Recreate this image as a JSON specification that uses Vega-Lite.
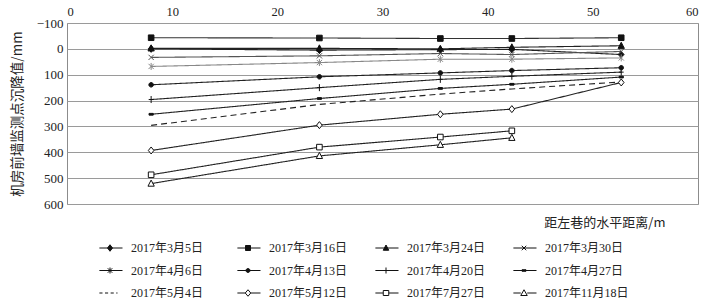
{
  "$schema": "https://vega.github.io/schema/vega-lite/v6.json",
  "width": 631,
  "height": 181,
  "autosize": {"type": "none"},
  "padding": {"left": 67, "top": 23, "right": 19, "bottom": 97},
  "background": "white",
  "config": {
    "view": {"stroke": "#8c8c8c", "strokeWidth": 1},
    "axis": {"labelFont": "Liberation Serif", "labelColor": "#222", "titleColor": "#222", "titleFontWeight": "normal", "titleFont": "Noto Sans CJK SC", "domain": false},
    "legend": {"direction": "horizontal", "columns": 4, "gridAlign": "all", "columnPadding": 20, "rowPadding": 3.5, "symbolSize": 625, "symbolStrokeWidth": 1, "symbolStrokeColor": "#111", "symbolOpacity": 1, "labelFont": "Liberation Serif, Noto Sans CJK SC", "labelFontSize": 12, "labelColor": "#222", "labelOffset": 8, "labelLimit": 200}
  },
  "data": {"values": [
    {"series": "2017年3月5日", "x": 8, "y": 0},
    {"series": "2017年3月5日", "x": 24, "y": 5},
    {"series": "2017年3月5日", "x": 35.5, "y": 3},
    {"series": "2017年3月5日", "x": 42.3, "y": 2},
    {"series": "2017年3月5日", "x": 52.7, "y": 22},
    {"series": "2017年3月16日", "x": 8, "y": -43},
    {"series": "2017年3月16日", "x": 24, "y": -42},
    {"series": "2017年3月16日", "x": 35.5, "y": -40},
    {"series": "2017年3月16日", "x": 42.3, "y": -40},
    {"series": "2017年3月16日", "x": 52.7, "y": -43},
    {"series": "2017年3月24日", "x": 8, "y": -2},
    {"series": "2017年3月24日", "x": 24, "y": -2},
    {"series": "2017年3月24日", "x": 35.5, "y": 0},
    {"series": "2017年3月24日", "x": 42.3, "y": -6},
    {"series": "2017年3月24日", "x": 52.7, "y": -12},
    {"series": "2017年3月30日", "x": 8, "y": 33},
    {"series": "2017年3月30日", "x": 24, "y": 27},
    {"series": "2017年3月30日", "x": 35.5, "y": 18},
    {"series": "2017年3月30日", "x": 42.3, "y": 22},
    {"series": "2017年3月30日", "x": 52.7, "y": 10},
    {"series": "2017年4月6日", "x": 8, "y": 68},
    {"series": "2017年4月6日", "x": 24, "y": 53},
    {"series": "2017年4月6日", "x": 35.5, "y": 40},
    {"series": "2017年4月6日", "x": 42.3, "y": 40},
    {"series": "2017年4月6日", "x": 52.7, "y": 35},
    {"series": "2017年4月13日", "x": 8, "y": 139},
    {"series": "2017年4月13日", "x": 24, "y": 108},
    {"series": "2017年4月13日", "x": 35.5, "y": 93},
    {"series": "2017年4月13日", "x": 42.3, "y": 84},
    {"series": "2017年4月13日", "x": 52.7, "y": 73},
    {"series": "2017年4月20日", "x": 8, "y": 196},
    {"series": "2017年4月20日", "x": 24, "y": 150},
    {"series": "2017年4月20日", "x": 35.5, "y": 118},
    {"series": "2017年4月20日", "x": 42.3, "y": 106},
    {"series": "2017年4月20日", "x": 52.7, "y": 90},
    {"series": "2017年4月27日", "x": 8, "y": 253},
    {"series": "2017年4月27日", "x": 24, "y": 192},
    {"series": "2017年4月27日", "x": 35.5, "y": 153},
    {"series": "2017年4月27日", "x": 42.3, "y": 137},
    {"series": "2017年4月27日", "x": 52.7, "y": 109},
    {"series": "2017年5月4日", "x": 8, "y": 296},
    {"series": "2017年5月4日", "x": 24, "y": 215},
    {"series": "2017年5月4日", "x": 35.5, "y": 175},
    {"series": "2017年5月4日", "x": 42.3, "y": 155},
    {"series": "2017年5月4日", "x": 52.7, "y": 128},
    {"series": "2017年5月12日", "x": 8, "y": 393},
    {"series": "2017年5月12日", "x": 24, "y": 295},
    {"series": "2017年5月12日", "x": 35.5, "y": 253},
    {"series": "2017年5月12日", "x": 42.3, "y": 233},
    {"series": "2017年5月12日", "x": 52.7, "y": 130},
    {"series": "2017年7月27日", "x": 8, "y": 487},
    {"series": "2017年7月27日", "x": 24, "y": 380},
    {"series": "2017年7月27日", "x": 35.5, "y": 341},
    {"series": "2017年7月27日", "x": 42.3, "y": 317},
    {"series": "2017年11月18日", "x": 8, "y": 521},
    {"series": "2017年11月18日", "x": 24, "y": 414},
    {"series": "2017年11月18日", "x": 35.5, "y": 371},
    {"series": "2017年11月18日", "x": 42.3, "y": 344}
  ]},
  "encoding": {
    "x": {"field": "x", "type": "quantitative", "scale": {"domain": [0, 60], "nice": false},
      "axis": {"orient": "top", "values": [0, 10, 20, 30, 40, 50, 60], "grid": false, "ticks": false, "labelPadding": 5, "labelFontSize": 12.5,
        "title": "距左巷的水平距离/m", "titleFontSize": 13, "titleAnchor": "end", "titleAlign": "right", "titleX": 598, "titleY": 199, "titleBaseline": "middle"}},
    "y": {"field": "y", "type": "quantitative", "scale": {"domain": [-100, 600], "reverse": true, "nice": false},
      "axis": {"values": [-100, 0, 100, 200, 300, 400, 500, 600], "grid": true, "gridColor": "#9a9a9a", "ticks": false, "labelPadding": 4, "labelFontSize": 13,
        "title": "机房前墙监测点沉降值/mm", "titleFontSize": 13.5, "titlePadding": 12}}
  },
  "layer": [
    {
      "mark": {"type": "line", "strokeWidth": 1.1},
      "encoding": {
        "stroke": {"field": "series", "type": "nominal", "legend": null,
          "scale": {"domain": ["2017年3月5日", "2017年3月16日", "2017年3月24日", "2017年3月30日", "2017年4月6日", "2017年4月13日", "2017年4月20日", "2017年4月27日", "2017年5月4日", "2017年5月12日", "2017年7月27日", "2017年11月18日"],
            "range": ["#222", "#333", "#222", "#555", "#888", "#222", "#222", "#222", "#222", "#222", "#222", "#222"]}},
        "strokeDash": {"field": "series", "type": "nominal", "legend": null,
          "scale": {"domain": ["2017年3月5日", "2017年3月16日", "2017年3月24日", "2017年3月30日", "2017年4月6日", "2017年4月13日", "2017年4月20日", "2017年4月27日", "2017年5月4日", "2017年5月12日", "2017年7月27日", "2017年11月18日"],
            "range": [[1, 0], [1, 0], [1, 0], [1, 0], [1, 0], [1, 0], [1, 0], [1, 0], [6, 4], [1, 0], [1, 0], [1, 0]]}}
      }
    },
    {
      "transform": [{"filter": "datum.series !== '2017年5月4日'"}],
      "mark": {"type": "point", "filled": true, "size": 49, "strokeWidth": 1, "opacity": 1},
      "encoding": {
        "stroke": {"field": "series", "type": "nominal", "legend": null,
          "scale": {"domain": ["2017年3月5日", "2017年3月16日", "2017年3月24日", "2017年3月30日", "2017年4月6日", "2017年4月13日", "2017年4月20日", "2017年4月27日", "2017年5月12日", "2017年7月27日", "2017年11月18日"],
            "range": ["#111", "#111", "#111", "#555", "#888", "#111", "#111", "#111", "#111", "#111", "#111"]}},
        "shape": {"field": "series", "type": "nominal", "legend": null,
          "scale": {"domain": ["2017年3月5日", "2017年3月16日", "2017年3月24日", "2017年3月30日", "2017年4月6日", "2017年4月13日", "2017年4月20日", "2017年4月27日", "2017年5月12日", "2017年7月27日", "2017年11月18日"],
            "range": ["M0,-1L0.8,0L0,1L-0.8,0Z", "M-0.8,-0.8H0.8V0.8H-0.8Z", "M0,-1L0.9,0.75H-0.9Z", "M-0.75,-0.75L0.75,0.75M-0.75,0.75L0.75,-0.75", "M-0.75,-0.75L0.75,0.75M-0.75,0.75L0.75,-0.75M0,-1V1", "M-0.65,0A0.65,0.65 0 1,0 0.65,0A0.65,0.65 0 1,0 -0.65,0Z", "M-0.7,0H0.7M0,-1V1", "M-0.6,-0.25H0.6V0.25H-0.6Z", "M0,-1L0.8,0L0,1L-0.8,0Z", "M-0.8,-0.8H0.8V0.8H-0.8Z", "M0,-1L0.9,0.75H-0.9Z"]}},
        "fill": {"field": "series", "type": "nominal", "legend": null,
          "scale": {"domain": ["2017年3月5日", "2017年3月16日", "2017年3月24日", "2017年3月30日", "2017年4月6日", "2017年4月13日", "2017年4月20日", "2017年4月27日", "2017年5月12日", "2017年7月27日", "2017年11月18日"],
            "range": ["#111", "#111", "#111", "#555", "#888", "#111", "#111", "#111", "white", "white", "white"]}}
      }
    },
    {
      "transform": [{"filter": "false"}],
      "mark": {"type": "point", "filled": true, "strokeWidth": 1, "opacity": 1},
      "encoding": {
        "shape": {"field": "series", "type": "nominal",
          "legend": {"title": null, "orient": "none", "legendX": 30, "legendY": 212, "direction": "horizontal", "columns": 4},
          "scale": {"domain": ["2017年3月5日", "2017年3月16日", "2017年3月24日", "2017年3月30日", "2017年4月6日", "2017年4月13日", "2017年4月20日", "2017年4月27日", "2017年5月4日", "2017年5月12日", "2017年7月27日", "2017年11月18日"],
            "range": [
              "M-0.85,0H1M0,-0.26L0.2,0L0,0.26L-0.2,0Z",
              "M-0.85,0H1M-0.2,-0.2H0.2V0.2H-0.2Z",
              "M-0.85,0H1M0,-0.24L0.22,0.18H-0.22Z",
              "M-0.85,0H1M-0.18,-0.18L0.18,0.18M-0.18,0.18L0.18,-0.18",
              "M-0.85,0H1M-0.18,-0.18L0.18,0.18M-0.18,0.18L0.18,-0.18M0,-0.24V0.24",
              "M-0.85,0H1M-0.16,0A0.16,0.16 0 1,0 0.16,0A0.16,0.16 0 1,0 -0.16,0Z",
              "M-0.85,0H1M0,-0.24V0.24",
              "M-0.85,0H1M-0.16,-0.06H0.16V0.06H-0.16Z",
              "M-0.85,0H-0.6M-0.4,0H-0.15M0.05,0H0.3M0.5,0H0.6",
              "M-0.85,0H-0.22M0.22,0H1M0,-0.26L0.22,0L0,0.26L-0.22,0Z",
              "M-0.85,0H-0.22M0.22,0H1M-0.22,-0.2H0.22V0.2H-0.22Z",
              "M-0.85,0H-0.26M0.26,0H1M0,-0.26L0.26,0.2H-0.26Z"
            ]}},
        "fill": {"field": "series", "type": "nominal",
          "legend": {"title": null, "orient": "none", "legendX": 30, "legendY": 212, "direction": "horizontal", "columns": 4},
          "scale": {"domain": ["2017年3月5日", "2017年3月16日", "2017年3月24日", "2017年3月30日", "2017年4月6日", "2017年4月13日", "2017年4月20日", "2017年4月27日", "2017年5月4日", "2017年5月12日", "2017年7月27日", "2017年11月18日"],
            "range": ["#111", "#111", "#111", "#111", "#111", "#111", "#111", "#111", "#111", "white", "white", "white"]}},
        "stroke": {"field": "series", "type": "nominal",
          "legend": {"title": null, "orient": "none", "legendX": 30, "legendY": 212, "direction": "horizontal", "columns": 4},
          "scale": {"domain": ["2017年3月5日", "2017年3月16日", "2017年3月24日", "2017年3月30日", "2017年4月6日", "2017年4月13日", "2017年4月20日", "2017年4月27日", "2017年5月4日", "2017年5月12日", "2017年7月27日", "2017年11月18日"],
            "range": ["#111", "#111", "#111", "#111", "#111", "#111", "#111", "#111", "#111", "#111", "#111", "#111"]}}
      }
    }
  ],
  "resolve": {"scale": {"shape": "independent", "fill": "independent", "stroke": "independent"}}
}
